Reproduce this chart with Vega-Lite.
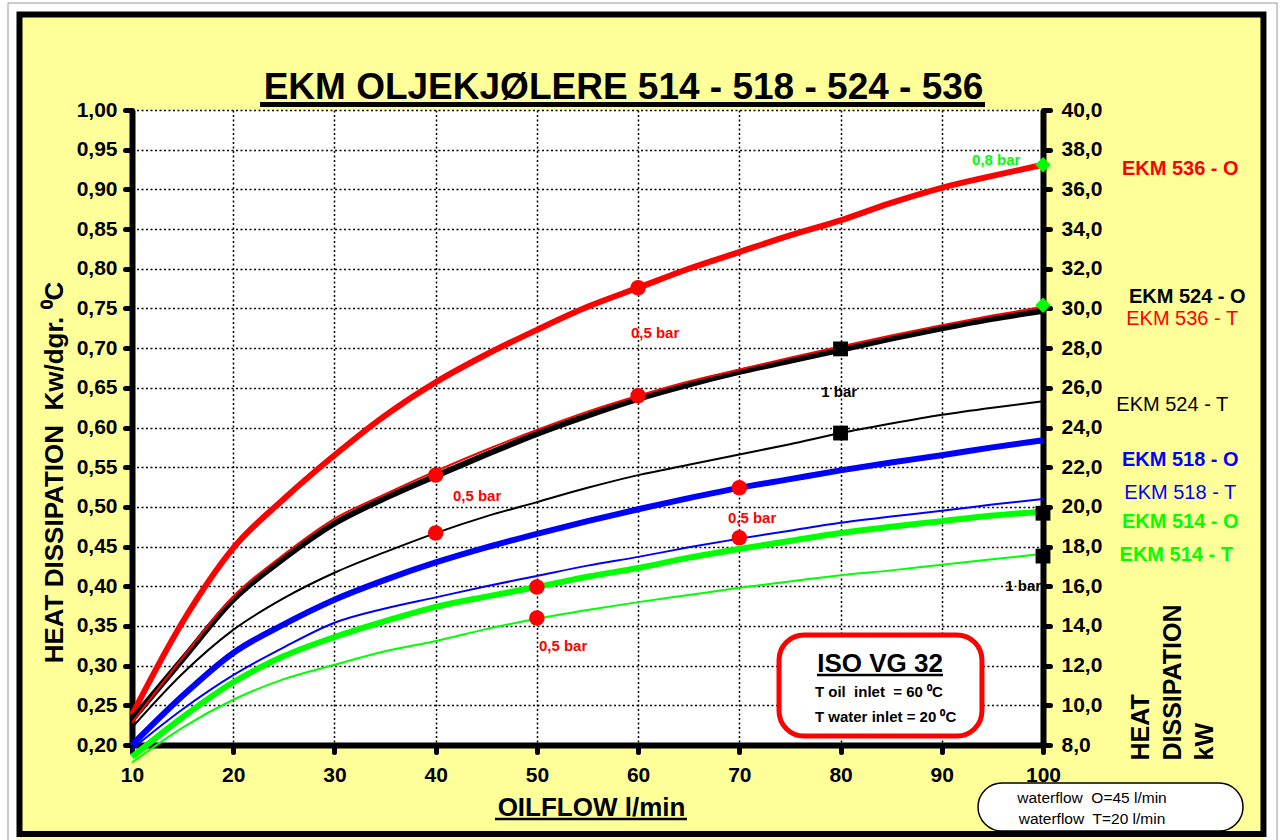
{
  "$schema": "https://vega.github.io/schema/vega-lite/v6.json",
  "width": 911,
  "height": 635,
  "autosize": {"type": "none"},
  "padding": {"left": 132, "top": 110, "right": 238, "bottom": 95},
  "background": "#FFFF99",
  "config": {"font": "Liberation Sans", "view": {"stroke": null, "fill": "white"}},
  "datasets": {
    "one": [{}],
    "curves": [
      {"model": "536", "water": "O", "flow": 10, "kw": 0.238}, {"model": "536", "water": "O", "flow": 15, "kw": 0.355}, {"model": "536", "water": "O", "flow": 20, "kw": 0.448}, {"model": "536", "water": "O", "flow": 25, "kw": 0.510}, {"model": "536", "water": "O", "flow": 30, "kw": 0.565}, {"model": "536", "water": "O", "flow": 35, "kw": 0.615}, {"model": "536", "water": "O", "flow": 40, "kw": 0.657}, {"model": "536", "water": "O", "flow": 45, "kw": 0.692}, {"model": "536", "water": "O", "flow": 50, "kw": 0.723}, {"model": "536", "water": "O", "flow": 55, "kw": 0.752}, {"model": "536", "water": "O", "flow": 60, "kw": 0.776}, {"model": "536", "water": "O", "flow": 65, "kw": 0.800}, {"model": "536", "water": "O", "flow": 70, "kw": 0.821}, {"model": "536", "water": "O", "flow": 75, "kw": 0.842}, {"model": "536", "water": "O", "flow": 80, "kw": 0.861}, {"model": "536", "water": "O", "flow": 85, "kw": 0.883}, {"model": "536", "water": "O", "flow": 90, "kw": 0.902}, {"model": "536", "water": "O", "flow": 95, "kw": 0.917}, {"model": "536", "water": "O", "flow": 100, "kw": 0.931},
      {"model": "536", "water": "T", "flow": 10, "kw": 0.228}, {"model": "536", "water": "T", "flow": 15, "kw": 0.310}, {"model": "536", "water": "T", "flow": 20, "kw": 0.387}, {"model": "536", "water": "T", "flow": 25, "kw": 0.440}, {"model": "536", "water": "T", "flow": 30, "kw": 0.485}, {"model": "536", "water": "T", "flow": 35, "kw": 0.516}, {"model": "536", "water": "T", "flow": 40, "kw": 0.545}, {"model": "536", "water": "T", "flow": 45, "kw": 0.572}, {"model": "536", "water": "T", "flow": 50, "kw": 0.597}, {"model": "536", "water": "T", "flow": 55, "kw": 0.620}, {"model": "536", "water": "T", "flow": 60, "kw": 0.640}, {"model": "536", "water": "T", "flow": 65, "kw": 0.658}, {"model": "536", "water": "T", "flow": 70, "kw": 0.673}, {"model": "536", "water": "T", "flow": 75, "kw": 0.688}, {"model": "536", "water": "T", "flow": 80, "kw": 0.702}, {"model": "536", "water": "T", "flow": 85, "kw": 0.716}, {"model": "536", "water": "T", "flow": 90, "kw": 0.729}, {"model": "536", "water": "T", "flow": 95, "kw": 0.741}, {"model": "536", "water": "T", "flow": 100, "kw": 0.752},
      {"model": "524", "water": "O", "flow": 10, "kw": 0.232}, {"model": "524", "water": "O", "flow": 15, "kw": 0.308}, {"model": "524", "water": "O", "flow": 20, "kw": 0.383}, {"model": "524", "water": "O", "flow": 25, "kw": 0.435}, {"model": "524", "water": "O", "flow": 30, "kw": 0.479}, {"model": "524", "water": "O", "flow": 35, "kw": 0.511}, {"model": "524", "water": "O", "flow": 40, "kw": 0.539}, {"model": "524", "water": "O", "flow": 45, "kw": 0.566}, {"model": "524", "water": "O", "flow": 50, "kw": 0.592}, {"model": "524", "water": "O", "flow": 55, "kw": 0.615}, {"model": "524", "water": "O", "flow": 60, "kw": 0.636}, {"model": "524", "water": "O", "flow": 65, "kw": 0.654}, {"model": "524", "water": "O", "flow": 70, "kw": 0.670}, {"model": "524", "water": "O", "flow": 75, "kw": 0.684}, {"model": "524", "water": "O", "flow": 80, "kw": 0.698}, {"model": "524", "water": "O", "flow": 85, "kw": 0.712}, {"model": "524", "water": "O", "flow": 90, "kw": 0.725}, {"model": "524", "water": "O", "flow": 95, "kw": 0.737}, {"model": "524", "water": "O", "flow": 100, "kw": 0.747},
      {"model": "524", "water": "T", "flow": 10, "kw": 0.222}, {"model": "524", "water": "T", "flow": 15, "kw": 0.290}, {"model": "524", "water": "T", "flow": 20, "kw": 0.345}, {"model": "524", "water": "T", "flow": 25, "kw": 0.385}, {"model": "524", "water": "T", "flow": 30, "kw": 0.417}, {"model": "524", "water": "T", "flow": 35, "kw": 0.443}, {"model": "524", "water": "T", "flow": 40, "kw": 0.467}, {"model": "524", "water": "T", "flow": 45, "kw": 0.488}, {"model": "524", "water": "T", "flow": 50, "kw": 0.506}, {"model": "524", "water": "T", "flow": 55, "kw": 0.524}, {"model": "524", "water": "T", "flow": 60, "kw": 0.540}, {"model": "524", "water": "T", "flow": 65, "kw": 0.553}, {"model": "524", "water": "T", "flow": 70, "kw": 0.566}, {"model": "524", "water": "T", "flow": 75, "kw": 0.579}, {"model": "524", "water": "T", "flow": 80, "kw": 0.593}, {"model": "524", "water": "T", "flow": 85, "kw": 0.605}, {"model": "524", "water": "T", "flow": 90, "kw": 0.616}, {"model": "524", "water": "T", "flow": 95, "kw": 0.625}, {"model": "524", "water": "T", "flow": 100, "kw": 0.633},
      {"model": "518", "water": "O", "flow": 10, "kw": 0.200}, {"model": "518", "water": "O", "flow": 15, "kw": 0.262}, {"model": "518", "water": "O", "flow": 20, "kw": 0.316}, {"model": "518", "water": "O", "flow": 25, "kw": 0.352}, {"model": "518", "water": "O", "flow": 30, "kw": 0.383}, {"model": "518", "water": "O", "flow": 35, "kw": 0.408}, {"model": "518", "water": "O", "flow": 40, "kw": 0.430}, {"model": "518", "water": "O", "flow": 45, "kw": 0.449}, {"model": "518", "water": "O", "flow": 50, "kw": 0.466}, {"model": "518", "water": "O", "flow": 55, "kw": 0.482}, {"model": "518", "water": "O", "flow": 60, "kw": 0.497}, {"model": "518", "water": "O", "flow": 65, "kw": 0.511}, {"model": "518", "water": "O", "flow": 70, "kw": 0.524}, {"model": "518", "water": "O", "flow": 75, "kw": 0.535}, {"model": "518", "water": "O", "flow": 80, "kw": 0.546}, {"model": "518", "water": "O", "flow": 85, "kw": 0.556}, {"model": "518", "water": "O", "flow": 90, "kw": 0.565}, {"model": "518", "water": "O", "flow": 95, "kw": 0.575}, {"model": "518", "water": "O", "flow": 100, "kw": 0.584},
      {"model": "518", "water": "T", "flow": 10, "kw": 0.195}, {"model": "518", "water": "T", "flow": 15, "kw": 0.245}, {"model": "518", "water": "T", "flow": 20, "kw": 0.288}, {"model": "518", "water": "T", "flow": 25, "kw": 0.323}, {"model": "518", "water": "T", "flow": 30, "kw": 0.354}, {"model": "518", "water": "T", "flow": 35, "kw": 0.372}, {"model": "518", "water": "T", "flow": 40, "kw": 0.386}, {"model": "518", "water": "T", "flow": 45, "kw": 0.400}, {"model": "518", "water": "T", "flow": 50, "kw": 0.413}, {"model": "518", "water": "T", "flow": 55, "kw": 0.426}, {"model": "518", "water": "T", "flow": 60, "kw": 0.437}, {"model": "518", "water": "T", "flow": 65, "kw": 0.449}, {"model": "518", "water": "T", "flow": 70, "kw": 0.460}, {"model": "518", "water": "T", "flow": 75, "kw": 0.470}, {"model": "518", "water": "T", "flow": 80, "kw": 0.480}, {"model": "518", "water": "T", "flow": 85, "kw": 0.488}, {"model": "518", "water": "T", "flow": 90, "kw": 0.495}, {"model": "518", "water": "T", "flow": 95, "kw": 0.503}, {"model": "518", "water": "T", "flow": 100, "kw": 0.510},
      {"model": "514", "water": "O", "flow": 10, "kw": 0.185}, {"model": "514", "water": "O", "flow": 15, "kw": 0.235}, {"model": "514", "water": "O", "flow": 20, "kw": 0.279}, {"model": "514", "water": "O", "flow": 25, "kw": 0.312}, {"model": "514", "water": "O", "flow": 30, "kw": 0.336}, {"model": "514", "water": "O", "flow": 35, "kw": 0.356}, {"model": "514", "water": "O", "flow": 40, "kw": 0.374}, {"model": "514", "water": "O", "flow": 45, "kw": 0.387}, {"model": "514", "water": "O", "flow": 50, "kw": 0.399}, {"model": "514", "water": "O", "flow": 55, "kw": 0.412}, {"model": "514", "water": "O", "flow": 60, "kw": 0.423}, {"model": "514", "water": "O", "flow": 65, "kw": 0.436}, {"model": "514", "water": "O", "flow": 70, "kw": 0.447}, {"model": "514", "water": "O", "flow": 75, "kw": 0.457}, {"model": "514", "water": "O", "flow": 80, "kw": 0.467}, {"model": "514", "water": "O", "flow": 85, "kw": 0.475}, {"model": "514", "water": "O", "flow": 90, "kw": 0.482}, {"model": "514", "water": "O", "flow": 95, "kw": 0.489}, {"model": "514", "water": "O", "flow": 100, "kw": 0.494},
      {"model": "514", "water": "T", "flow": 10, "kw": 0.178}, {"model": "514", "water": "T", "flow": 15, "kw": 0.222}, {"model": "514", "water": "T", "flow": 20, "kw": 0.257}, {"model": "514", "water": "T", "flow": 25, "kw": 0.283}, {"model": "514", "water": "T", "flow": 30, "kw": 0.301}, {"model": "514", "water": "T", "flow": 35, "kw": 0.318}, {"model": "514", "water": "T", "flow": 40, "kw": 0.331}, {"model": "514", "water": "T", "flow": 45, "kw": 0.346}, {"model": "514", "water": "T", "flow": 50, "kw": 0.359}, {"model": "514", "water": "T", "flow": 55, "kw": 0.370}, {"model": "514", "water": "T", "flow": 60, "kw": 0.380}, {"model": "514", "water": "T", "flow": 65, "kw": 0.389}, {"model": "514", "water": "T", "flow": 70, "kw": 0.398}, {"model": "514", "water": "T", "flow": 75, "kw": 0.406}, {"model": "514", "water": "T", "flow": 80, "kw": 0.414}, {"model": "514", "water": "T", "flow": 85, "kw": 0.420}, {"model": "514", "water": "T", "flow": 90, "kw": 0.427}, {"model": "514", "water": "T", "flow": 95, "kw": 0.434}, {"model": "514", "water": "T", "flow": 100, "kw": 0.441}
    ],
    "markers": [
      {"pressure": "0,5 bar", "flow": 40, "kw": 0.540}, {"pressure": "0,5 bar", "flow": 40, "kw": 0.467},
      {"pressure": "0,5 bar", "flow": 50, "kw": 0.399}, {"pressure": "0,5 bar", "flow": 50, "kw": 0.360},
      {"pressure": "0,5 bar", "flow": 60, "kw": 0.776}, {"pressure": "0,5 bar", "flow": 60, "kw": 0.640},
      {"pressure": "0,5 bar", "flow": 70, "kw": 0.524}, {"pressure": "0,5 bar", "flow": 70, "kw": 0.461},
      {"pressure": "1 bar", "flow": 80, "kw": 0.699}, {"pressure": "1 bar", "flow": 80, "kw": 0.593},
      {"pressure": "1 bar", "flow": 100, "kw": 0.492}, {"pressure": "1 bar", "flow": 100, "kw": 0.438},
      {"pressure": "0,8 bar", "flow": 100, "kw": 0.931}, {"pressure": "0,8 bar", "flow": 100, "kw": 0.754}
    ],
    "pressureLabels": [
      {"pressure": "0,5 bar", "flow": 61.68, "kw": 0.719},
      {"pressure": "1 bar", "flow": 79.86, "kw": 0.645},
      {"pressure": "0,5 bar", "flow": 44.09, "kw": 0.514},
      {"pressure": "0,5 bar", "flow": 71.26, "kw": 0.486},
      {"pressure": "0,5 bar", "flow": 52.59, "kw": 0.325},
      {"pressure": "1 bar", "flow": 98.04, "kw": 0.400},
      {"pressure": "0,8 bar", "flow": 95.38, "kw": 0.937}
    ],
    "seriesLabels": [
      {"label": "EKM 536 - O", "model": "536", "flow": 113.56, "kw": 0.926},
      {"label": "EKM 524 - O", "model": "524", "flow": 114.25, "kw": 0.764},
      {"label": "EKM 536 - T", "model": "536", "flow": 113.75, "kw": 0.737},
      {"label": "EKM 524 - T", "model": "524", "flow": 112.77, "kw": 0.628},
      {"label": "EKM 518 - O", "model": "518", "flow": 113.56, "kw": 0.559},
      {"label": "EKM 518 - T", "model": "518", "flow": 113.56, "kw": 0.5175},
      {"label": "EKM 514 - O", "model": "514", "flow": 113.56, "kw": 0.481},
      {"label": "EKM 514 - T", "model": "514", "flow": 113.16, "kw": 0.439}
    ]
  },
  "layer": [
    {
      "layer": [
        {
          "data": {"name": "one"},
          "mark": {"type": "rect", "fill": "transparent", "stroke": "white", "strokeWidth": 34, "clip": false},
          "encoding": {
            "x": {
              "datum": -3.04, "type": "quantitative",
              "scale": {"domain": [10, 100], "nice": false, "zero": false},
              "axis": {
                "orient": "bottom",
                "values": [10, 20, 30, 40, 50, 60, 70, 80, 90, 100],
                "tickCount": 30,
                "grid": true, "gridColor": "black", "gridDash": [2, 2.5], "gridWidth": 1.5,
                "domainColor": "black", "domainWidth": 6,
                "tickColor": "black", "tickWidth": 5, "tickSize": 7, "tickCap": "round",
                "labelFontSize": 21, "labelFontWeight": "bold", "labelColor": "black",
                "labelPadding": 12, "labelFlush": false, "labelOverlap": false,
                "title": "OILFLOW l/min", "titleFontSize": 26, "titleFontWeight": "bold", "titleColor": "black",
                "titleX": 459, "titleY": 70, "titleAlign": "center", "titleBaseline": "alphabetic", "titleAngle": 0
              }
            },
            "x2": {"datum": 123.51},
            "y": {
              "datum": 1.1449, "type": "quantitative",
              "scale": {"domain": [0.2, 1.0], "nice": false, "zero": false},
              "axis": {
                "orient": "left",
                "values": [0.2, 0.25, 0.3, 0.35, 0.4, 0.45, 0.5, 0.55, 0.6, 0.65, 0.7, 0.75, 0.8, 0.85, 0.9, 0.95, 1.0],
                "tickCount": 40,
                "labelExpr": "replace(format(datum.value, '.2f'), '.', ',')",
                "grid": true, "gridColor": "black", "gridDash": [2, 2.5], "gridWidth": 1.5,
                "domainColor": "black", "domainWidth": 6,
                "tickColor": "black", "tickWidth": 5, "tickSize": 7, "tickCap": "round",
                "labelFontSize": 21, "labelFontWeight": "bold", "labelColor": "black",
                "labelPadding": 8, "labelFlush": false, "labelOverlap": false,
                "title": "HEAT DISSIPATION\u00a0 Kw/dgr. ⁰C", "titleFontSize": 26, "titleFontWeight": "bold", "titleColor": "black",
                "titleAngle": 270, "titleX": -70, "titleY": 362, "titleAlign": "center", "titleBaseline": "alphabetic"
              }
            },
            "y2": {"datum": 0.0551}
          }
        },
        {
          "data": {"name": "one"},
          "mark": {"type": "rect", "fill": "transparent", "stroke": "#999999", "strokeWidth": 1, "clip": false},
          "encoding": {
            "x": {"datum": -2.25, "type": "quantitative"}, "x2": {"datum": 123.12},
            "y": {"datum": 1.1348, "type": "quantitative"}, "y2": {"datum": 0.0551}
          }
        },
        {
          "data": {"name": "one"},
          "mark": {"type": "rect", "fill": "transparent", "stroke": "black", "strokeWidth": 6, "clip": false},
          "encoding": {
            "x": {"datum": -1.114, "type": "quantitative"}, "x2": {"datum": 121.78},
            "y": {"datum": 1.1203, "type": "quantitative"}, "y2": {"datum": 0.0879}
          }
        },
        {
          "data": {"name": "curves"},
          "transform": [{"filter": "datum.water === 'O'"}],
          "mark": {"type": "line", "strokeWidth": 6, "interpolate": "monotone", "clip": false},
          "encoding": {
            "x": {"field": "flow", "type": "quantitative", "title": "OILFLOW l/min"},
            "y": {"field": "kw", "type": "quantitative", "title": "HEAT DISSIPATION\u00a0 Kw/dgr. ⁰C"},
            "color": {
              "field": "model", "type": "nominal",
              "scale": {"domain": ["536", "524", "518", "514"], "range": ["#FF0000", "#000000", "#0000FF", "#00FF00"]},
              "legend": null
            }
          }
        },
        {
          "data": {"name": "curves"},
          "transform": [{"filter": "datum.water === 'T'"}],
          "mark": {"type": "line", "strokeWidth": 2, "interpolate": "monotone", "clip": false},
          "encoding": {
            "x": {"field": "flow", "type": "quantitative", "title": "OILFLOW l/min"},
            "y": {"field": "kw", "type": "quantitative", "title": "HEAT DISSIPATION\u00a0 Kw/dgr. ⁰C"},
            "color": {"field": "model", "type": "nominal", "legend": null}
          }
        },
        {
          "data": {"name": "markers"},
          "transform": [{"filter": "datum.pressure === '0,5 bar'"}],
          "mark": {"type": "point", "shape": "circle", "filled": true, "fill": "#FF0000", "stroke": null, "size": 240, "opacity": 1, "clip": false},
          "encoding": {"x": {"field": "flow", "type": "quantitative", "title": "OILFLOW l/min"}, "y": {"field": "kw", "type": "quantitative", "title": "HEAT DISSIPATION\u00a0 Kw/dgr. ⁰C"}}
        },
        {
          "data": {"name": "markers"},
          "transform": [{"filter": "datum.pressure === '1 bar'"}],
          "mark": {"type": "point", "shape": "square", "filled": true, "fill": "#000000", "stroke": null, "size": 220, "opacity": 1, "clip": false},
          "encoding": {"x": {"field": "flow", "type": "quantitative", "title": "OILFLOW l/min"}, "y": {"field": "kw", "type": "quantitative", "title": "HEAT DISSIPATION\u00a0 Kw/dgr. ⁰C"}}
        },
        {
          "data": {"name": "markers"},
          "transform": [{"filter": "datum.pressure === '0,8 bar'"}],
          "mark": {"type": "point", "shape": "diamond", "filled": true, "fill": "#00FF00", "stroke": null, "size": 240, "opacity": 1, "clip": false},
          "encoding": {"x": {"field": "flow", "type": "quantitative", "title": "OILFLOW l/min"}, "y": {"field": "kw", "type": "quantitative", "title": "HEAT DISSIPATION\u00a0 Kw/dgr. ⁰C"}}
        },
        {
          "data": {"name": "pressureLabels"},
          "mark": {"type": "text", "fontSize": 15, "fontWeight": "bold", "align": "center", "baseline": "middle", "clip": false},
          "encoding": {
            "x": {"field": "flow", "type": "quantitative", "title": "OILFLOW l/min"},
            "y": {"field": "kw", "type": "quantitative", "title": "HEAT DISSIPATION\u00a0 Kw/dgr. ⁰C"},
            "text": {"field": "pressure"},
            "color": {"condition": [{"test": "datum.pressure === '0,5 bar'", "value": "#FF0000"}, {"test": "datum.pressure === '0,8 bar'", "value": "#00FF00"}], "value": "#000000"}
          }
        },
        {
          "data": {"name": "seriesLabels"},
          "transform": [{"filter": {"field": "label", "oneOf": ["EKM 536 - O", "EKM 524 - O", "EKM 518 - O", "EKM 514 - O", "EKM 514 - T"]}}],
          "mark": {"type": "text", "fontSize": 20, "fontWeight": "bold", "align": "center", "baseline": "middle", "clip": false},
          "encoding": {
            "x": {"field": "flow", "type": "quantitative", "title": "OILFLOW l/min"},
            "y": {"field": "kw", "type": "quantitative", "title": "HEAT DISSIPATION\u00a0 Kw/dgr. ⁰C"},
            "text": {"field": "label"},
            "color": {"field": "model", "type": "nominal", "legend": null}
          }
        },
        {
          "data": {"name": "seriesLabels"},
          "transform": [{"filter": {"field": "label", "oneOf": ["EKM 536 - T", "EKM 524 - T", "EKM 518 - T"]}}],
          "mark": {"type": "text", "fontSize": 20, "fontWeight": "normal", "align": "center", "baseline": "middle", "clip": false},
          "encoding": {
            "x": {"field": "flow", "type": "quantitative", "title": "OILFLOW l/min"},
            "y": {"field": "kw", "type": "quantitative", "title": "HEAT DISSIPATION\u00a0 Kw/dgr. ⁰C"},
            "text": {"field": "label"},
            "color": {"field": "model", "type": "nominal", "legend": null}
          }
        },
        {
          "data": {"name": "one"},
          "mark": {"type": "text", "text": "EKM OLJEKJØLERE 514 - 518 - 524 - 536", "fontSize": 37, "fontWeight": "bold", "color": "black", "align": "center", "baseline": "alphabetic", "clip": false},
          "encoding": {"x": {"datum": 58.56, "type": "quantitative"}, "y": {"datum": 1.01386, "type": "quantitative"}}
        },
        {
          "data": {"name": "one"},
          "mark": {"type": "rule", "color": "black", "strokeWidth": 5, "clip": false},
          "encoding": {"x": {"datum": 22.65, "type": "quantitative"}, "x2": {"datum": 94.27}, "y": {"datum": 1.00693, "type": "quantitative"}}
        },
        {
          "data": {"name": "one"},
          "mark": {"type": "rule", "color": "black", "strokeWidth": 2.5, "clip": false},
          "encoding": {"x": {"datum": 45.86, "type": "quantitative"}, "x2": {"datum": 64.83}, "y": {"datum": 0.1068, "type": "quantitative"}}
        },
        {
          "data": {"name": "one"},
          "mark": {"type": "rect", "fill": "white", "stroke": "#FF0000", "strokeWidth": 5, "cornerRadius": 25, "clip": false},
          "encoding": {"x": {"datum": 73.92, "type": "quantitative"}, "x2": {"datum": 93.97}, "y": {"datum": 0.33861, "type": "quantitative"}, "y2": {"datum": 0.21137}}
        },
        {
          "data": {"name": "one"},
          "mark": {"type": "text", "text": "ISO VG 32", "fontSize": 26, "fontWeight": "bold", "color": "black", "align": "center", "baseline": "alphabetic", "clip": false},
          "encoding": {"x": {"datum": 83.9, "type": "quantitative"}, "y": {"datum": 0.29199, "type": "quantitative"}}
        },
        {
          "data": {"name": "one"},
          "mark": {"type": "rule", "color": "black", "strokeWidth": 2.5, "clip": false},
          "encoding": {"x": {"datum": 77.67, "type": "quantitative"}, "x2": {"datum": 90.12}, "y": {"datum": 0.28822, "type": "quantitative"}}
        },
        {
          "data": {"name": "one"},
          "mark": {"type": "text", "text": "T oil\u00a0 inlet\u00a0 = 60 ⁰C", "fontSize": 15, "fontWeight": "bold", "color": "black", "align": "left", "baseline": "alphabetic", "clip": false},
          "encoding": {"x": {"datum": 77.47, "type": "quantitative"}, "y": {"datum": 0.2605, "type": "quantitative"}}
        },
        {
          "data": {"name": "one"},
          "mark": {"type": "text", "text": "T water inlet = 20 ⁰C", "fontSize": 15, "fontWeight": "bold", "color": "black", "align": "left", "baseline": "alphabetic", "clip": false},
          "encoding": {"x": {"datum": 77.47, "type": "quantitative"}, "y": {"datum": 0.229, "type": "quantitative"}}
        },
        {
          "data": {"name": "one"},
          "mark": {"type": "rect", "fill": "white", "stroke": "black", "strokeWidth": 1.5, "cornerRadius": 24, "clip": false},
          "encoding": {"x": {"datum": 93.58, "type": "quantitative"}, "x2": {"datum": 119.76}, "y": {"datum": 0.15215, "type": "quantitative"}, "y2": {"datum": 0.09168}}
        },
        {
          "data": {"name": "one"},
          "mark": {"type": "text", "text": "waterflow\u00a0 O=45 l/min", "fontSize": 15.5, "color": "black", "align": "center", "baseline": "alphabetic", "clip": false},
          "encoding": {"x": {"datum": 104.84, "type": "quantitative"}, "y": {"datum": 0.127, "type": "quantitative"}}
        },
        {
          "data": {"name": "one"},
          "mark": {"type": "text", "text": "waterflow\u00a0 T=20 l/min", "fontSize": 15.5, "color": "black", "align": "center", "baseline": "alphabetic", "clip": false},
          "encoding": {"x": {"datum": 104.84, "type": "quantitative"}, "y": {"datum": 0.1005, "type": "quantitative"}}
        }
      ]
    },
    {
      "data": {"name": "one"},
      "mark": {"type": "rule", "opacity": 0},
      "encoding": {
        "y": {
          "datum": 8, "type": "quantitative",
          "scale": {"domain": [8, 40], "nice": false, "zero": false},
          "axis": {
            "orient": "right",
            "values": [8, 10, 12, 14, 16, 18, 20, 22, 24, 26, 28, 30, 32, 34, 36, 38, 40],
            "tickCount": 40,
            "labelExpr": "replace(format(datum.value, '.1f'), '.', ',')",
            "grid": false,
            "domainColor": "black", "domainWidth": 6,
            "tickColor": "black", "tickWidth": 5, "tickSize": 7, "tickCap": "round",
            "labelFontSize": 21, "labelFontWeight": "bold", "labelColor": "black",
            "labelPadding": 11, "labelFlush": false, "labelOverlap": false,
            "title": ["HEAT", "DISSIPATION", "kW"], "titleFontSize": 25, "titleFontWeight": "bold", "titleColor": "black",
            "titleAngle": 270, "titleX": 85, "titleY": 650, "titleAlign": "left", "titleBaseline": "top", "titleLineHeight": 32
          }
        }
      }
    }
  ],
  "resolve": {"scale": {"y": "independent"}}
}
